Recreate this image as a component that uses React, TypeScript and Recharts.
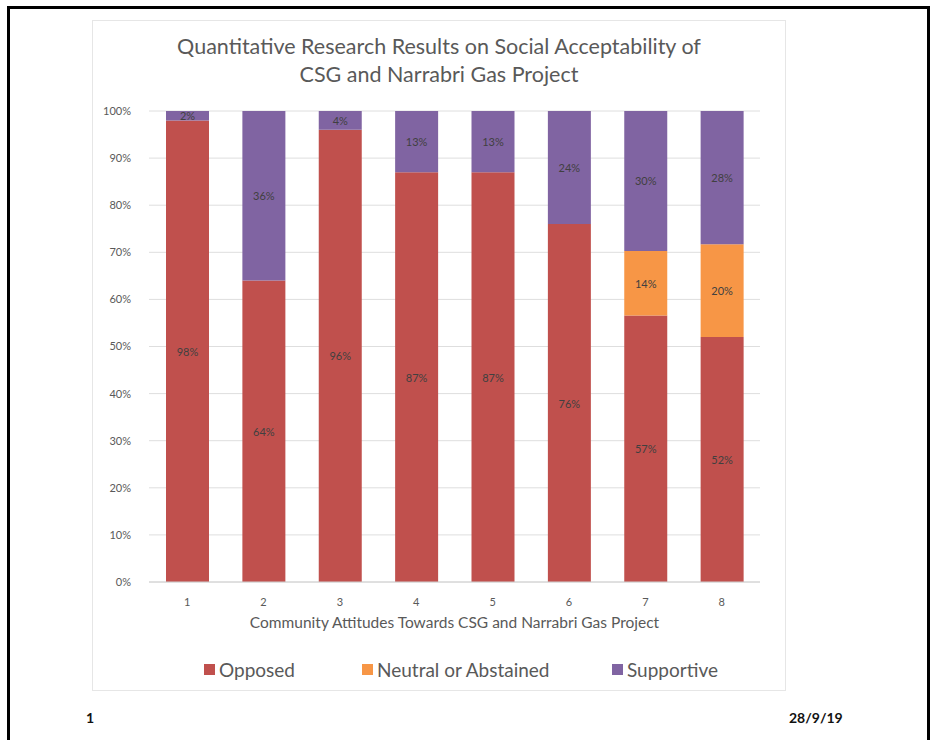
import { BarChart, Bar, XAxis, YAxis, CartesianGrid, LabelList } from "recharts";

// Community attitude groups 1..8, shares in percent
const categories = ["1", "2", "3", "4", "5", "6", "7", "8"];
const opposed = [98, 64, 96, 87, 87, 76, 56.6, 52];
const neutral = [0, 0, 0, 0, 0, 0, 13.7, 19.7];
const supportive = [2, 36, 4, 13, 13, 24, 29.7, 28.3];
const yTicks = [0, 10, 20, 30, 40, 50, 60, 70, 80, 90, 100];

const seriesMeta = [
  { key: "opposed", name: "Opposed", color: "#C0504D" },
  { key: "neutral", name: "Neutral or Abstained", color: "#F79646" },
  { key: "supportive", name: "Supportive", color: "#8064A2" },
];

const data = categories.map((c, i) => ({
  group: c,
  opposed: opposed[i],
  neutral: neutral[i],
  supportive: supportive[i],
}));

const FONT = "Lato, 'Open Sans', sans-serif";

const SegmentLabel = (props: any) => {
  const { x, y, width, height, value } = props;
  if (!value) return null;
  return (
    <text
      x={x + width / 2}
      y={y + height / 2}
      textAnchor="middle"
      dominantBaseline="central"
      fontSize={11}
      fill="#404040"
      fontFamily={FONT}
    >
      {Math.round(value)}%
    </text>
  );
};

export default function App() {
  return (
    <div
      style={{
        position: "absolute",
        left: 0,
        top: 0,
        width: 935,
        height: 740,
        background: "#fff",
        overflow: "hidden",
        fontFamily: FONT,
      }}
    >
      <div
        style={{
          position: "absolute",
          left: 7,
          top: 6,
          width: 917,
          height: 760,
          border: "3px solid #000",
        }}
      />
      <div
        style={{
          position: "absolute",
          left: 92,
          top: 20,
          width: 692,
          height: 669,
          border: "1px solid #e6e6e6",
        }}
      />
      <div
        style={{
          position: "absolute",
          left: 92,
          top: 32,
          width: 694,
          textAlign: "center",
          fontSize: 21.5,
          lineHeight: "28px",
          color: "#595959",
        }}
      >
        Quantitative Research Results on Social Acceptability of
        <br />
        CSG and Narrabri Gas Project
      </div>
      <div style={{ position: "absolute", left: 92, top: 20 }}>
        <BarChart
          width={693}
          height={670}
          data={data}
          margin={{ top: 91, right: 25, left: 0, bottom: 48 }}
          barSize={43}
        >
          <CartesianGrid vertical={false} stroke="#dedede" />
          <XAxis
            dataKey="group"
            height={60}
            tickLine={false}
            axisLine={{ stroke: "#d0d0d0" }}
            tick={{ fontSize: 11, fill: "#595959", fontFamily: FONT }}
            tickMargin={10}
            label={{
              value: "Community Attitudes Towards CSG and Narrabri Gas Project",
              position: "insideBottom",
              offset: 14,
              fontSize: 15.5,
              fill: "#595959",
              fontFamily: FONT,
            }}
          />
          <YAxis
            width={57}
            domain={[0, 100]}
            ticks={yTicks}
            tickFormatter={(v: number) => `${v}%`}
            tickLine={false}
            axisLine={false}
            tick={{ fontSize: 11, fill: "#595959", fontFamily: FONT }}
            tickMargin={12}
          />
          {seriesMeta.map((s) => (
            <Bar
              key={s.key}
              dataKey={s.key}
              name={s.name}
              stackId="a"
              fill={s.color}
              isAnimationActive={false}
            >
              <LabelList dataKey={s.key} content={<SegmentLabel />} />
            </Bar>
          ))}
        </BarChart>
      </div>
      <div
        style={{
          position: "absolute",
          left: 0,
          top: 658,
          width: 935,
          fontSize: 19,
          color: "#595959",
        }}
      >
        {seriesMeta.map((s, i) => (
          <div
            key={s.key}
            style={{
              position: "absolute",
              left: [204, 362, 612][i],
              display: "flex",
              alignItems: "center",
              gap: 4,
            }}
          >
            <div style={{ width: 11, height: 11, background: s.color }} />
            <span>{s.name}</span>
          </div>
        ))}
      </div>
      <div
        style={{
          position: "absolute",
          left: 86,
          top: 709,
          fontSize: 14,
          fontWeight: 700,
          color: "#111",
        }}
      >
        1
      </div>
      <div
        style={{
          position: "absolute",
          left: 789,
          top: 709,
          fontSize: 14,
          fontWeight: 700,
          color: "#111",
        }}
      >
        28/9/19
      </div>
    </div>
  );
}
